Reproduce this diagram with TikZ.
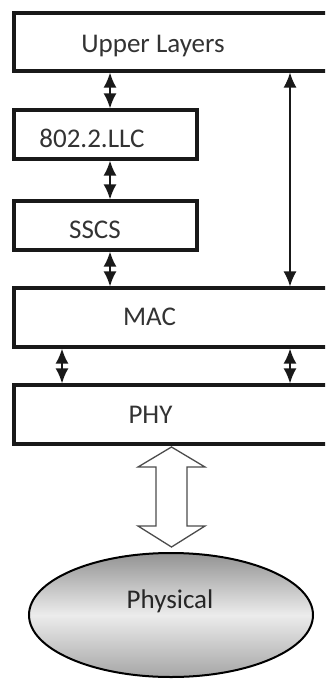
\documentclass[tikz,border=0pt]{standalone}
\usepackage{fontspec}
\setmainfont{Carlito}
\usetikzlibrary{arrows.meta,shapes.geometric}
\begin{document}
\begin{tikzpicture}[x=1pt,y=-1pt,
 layer/.style={draw=black!90, line width=3.2pt, fill=white, inner sep=0pt, rectangle},
 lbl/.style={anchor=base, font=\fontsize{27}{30}\selectfont, text=black!80, inner sep=0pt},
 dbl/.style={line width=1.8pt, draw=black!90, {Latex[length=15pt,width=13pt]}-{Latex[length=15pt,width=13pt]}},
 hollow/.style={draw=black!70, line width=1.3pt, fill=white, line join=miter},
]
\useasboundingbox (0,0) rectangle (325,680);
\clip (0,0) rectangle (325,680);
% boxes
\node[layer, minimum width=322pt, minimum height=58pt] (upper) at (175,42) {};
\node[layer, minimum width=183pt, minimum height=49pt] (llc) at (105.5,134.5) {};
\node[layer, minimum width=183pt, minimum height=49pt] (sscs) at (105.5,225.5) {};
\node[layer, minimum width=322pt, minimum height=59pt] (mac) at (175,317.5) {};
\node[layer, minimum width=322pt, minimum height=59pt] (phy) at (175,414.5) {};
\node[ellipse, draw=black, line width=2pt, minimum width=284pt, minimum height=124pt,
      top color=gray!85, bottom color=gray!70, middle color=gray!15] (phys) at (171,615) {};
% labels
\node[lbl] (tupper) at (153,52) {Upper Layers};
\node[lbl] (tllc) at (92,147) {802.2.LLC};
\node[lbl] (tsscs) at (95,238) {SSCS};
\node[lbl] (tmac) at (149.5,325) {MAC};
\node[lbl] (tphy) at (150.5,423) {PHY};
\node[lbl, text=black!85] (tphys) at (170,608) {Physical};
% connector x positions
\coordinate (ax) at (110,0);
\coordinate (rx) at (290,0);
\coordinate (lx) at (62,0);
\draw[dbl] (upper.south -| ax) -- (llc.north -| ax);
\draw[dbl] (llc.south -| ax) -- (sscs.north -| ax);
\draw[dbl] (sscs.south -| ax) -- (mac.north -| ax);
\draw[dbl, line width=1.5pt] (upper.south -| rx) -- (mac.north -| rx);
\draw[dbl] (mac.south -| lx) -- (phy.north -| lx);
\draw[dbl] (mac.south -| rx) -- (phy.north -| rx);
% hollow double arrow
\coordinate (hT) at (171.5,447);
\coordinate (hB) at (171.5,547);
\draw[hollow] (hT) -- ++(33.5,20) -- ++(-18,0) -- ++(0,59) -- ++(18,0) -- (hB)
  -- ++(-33.5,-21) -- ++(18,0) -- ++(0,-59) -- ++(-18,0) -- cycle;
\end{tikzpicture}
\end{document}
